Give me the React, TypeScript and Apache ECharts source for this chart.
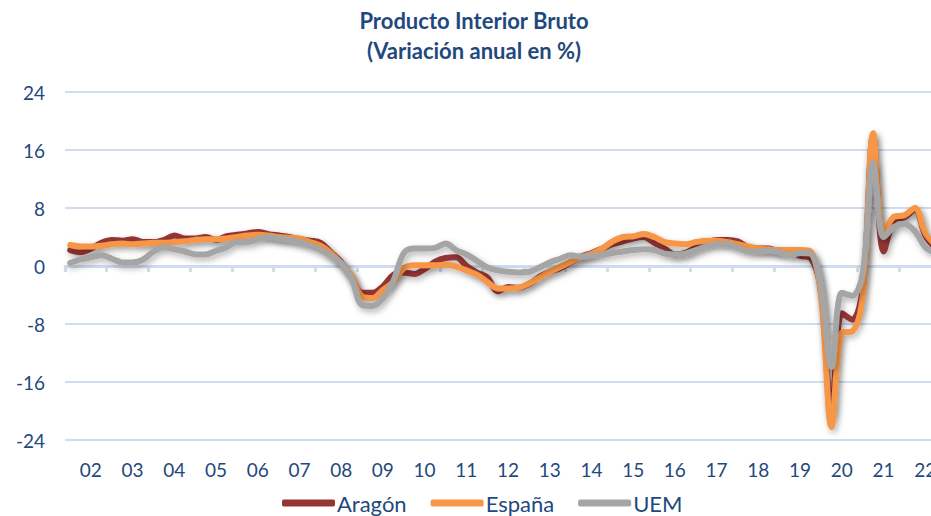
import React, { useEffect, useRef } from 'react';
import * as echarts from 'echarts';

const yearLabels = ['02', '03', '04', '05', '06', '07', '08', '09', '10', '11', '12', '13', '14', '15', '16', '17', '18', '19', '20', '21', '22'];
const firstYear = 2002;

// Quarterly year-on-year growth (%), 2002T1 .. 2022T4
const aragon = [
  2.2, 1.9, 2.4, 3.2,
  3.6, 3.5, 3.7, 3.3,
  3.3, 3.6, 4.2, 3.8,
  3.8, 4.0, 3.6, 4.1,
  4.3, 4.5, 4.7, 4.4,
  4.2, 4.0, 3.7, 3.5,
  3.2, 1.9, 0.5, -1.6,
  -3.7, -3.7, -2.8, -1.2,
  -0.9, -1.1, -0.4, 0.6,
  1.1, 1.2, 0.0, -0.9,
  -1.6, -3.5, -2.9, -3.0,
  -2.5, -1.5, -0.8, -0.3,
  0.5, 1.3, 1.8, 2.4,
  3.0, 3.4, 3.8, 4.0,
  3.2, 2.4, 1.6, 1.8,
  2.6, 3.2, 3.6, 3.6,
  3.4, 2.6, 2.4, 2.4,
  2.0, 2.0, 1.4, 1.1,
  -3.5, -20.5, -6.5, -7.4,
  -3.0, 18.0, 2.0, 6.3,
  6.7, 7.8, 4.2, 2.5,
];
const espana = [
  2.9, 2.7, 2.7, 2.8,
  3.0, 3.1, 3.0, 3.1,
  3.2, 3.2, 3.3, 3.4,
  3.6, 3.7, 3.7, 3.8,
  4.0, 4.2, 4.3, 4.2,
  4.0, 3.9, 3.8, 3.3,
  2.8, 1.8, 0.3, -1.4,
  -4.2, -4.4, -3.3, -2.2,
  -0.3, 0.1, 0.1, 0.1,
  0.2, -0.1, -0.6, -1.2,
  -2.2, -3.1, -3.1, -3.0,
  -2.4, -1.6, -0.8, -0.1,
  0.6, 1.2, 1.7, 2.4,
  3.4, 4.0, 4.1, 4.4,
  4.0, 3.3, 3.1, 3.0,
  3.3, 3.5, 3.5, 3.3,
  3.0, 2.7, 2.4, 2.3,
  2.2, 2.2, 2.2, 2.0,
  -4.2, -22.2, -9.2, -9.0,
  -4.0, 18.3, 4.5, 6.8,
  7.0, 8.0, 4.5, 2.9,
];
const uem = [
  0.4, 0.9, 1.2, 1.5,
  1.0, 0.5, 0.5, 0.9,
  2.0, 2.6, 2.3, 2.0,
  1.6, 1.6, 2.1, 2.6,
  3.3, 3.3, 3.7, 4.0,
  3.8, 3.6, 3.3, 2.8,
  2.2, 1.4, 0.4, -1.7,
  -5.4, -5.5, -4.4, -2.0,
  1.8, 2.4, 2.4, 2.5,
  3.1, 2.2, 1.6, 0.7,
  -0.2, -0.6, -0.8, -0.9,
  -0.8, -0.2, 0.5, 1.0,
  1.5, 1.3, 1.4, 1.5,
  1.8, 2.0, 2.2, 2.3,
  2.2, 1.7, 1.6, 1.7,
  2.2, 2.7, 3.0, 3.0,
  2.5, 2.0, 2.0, 2.1,
  1.9, 1.5, 1.8, 1.7,
  -3.0, -13.9, -3.7, -4.1,
  -1.0, 14.2, 4.0, 5.4,
  5.8, 4.8, 2.6, 1.8,
];

const yTicks = { min: -24, max: 24, interval: 8 };

const TEXT = '#1F497D';
const GRID = '#D0DDEF';
const FONT = 'Lato, "Open Sans", sans-serif';

// quarter i -> position on a continuous year scale (middle of the quarter)
const toXY = (vals: number[]) => vals.map((v, i) => [firstYear + Math.floor(i / 4) + ((i % 4) + 0.5) / 4, v]);

export default function App() {
  const ref = useRef<HTMLDivElement>(null);
  useEffect(() => {
    if (!ref.current) return;
    document.body.style.overflow = 'hidden';
    const chart = echarts.init(ref.current, undefined, { renderer: 'svg' });
    const shadow = {
      shadowColor: 'rgba(0,0,0,0.3)',
      shadowBlur: 6,
      shadowOffsetX: 2,
      shadowOffsetY: 3,
    };
    const mk = (name: string, color: string, vals: number[]) => ({
      name,
      type: 'line',
      xAxisIndex: 0,
      yAxisIndex: 0,
      data: toXY(vals),
      smooth: 0.35,
      showSymbol: false,
      symbol: 'none',
      lineStyle: { color, width: 6, cap: 'round', join: 'round', ...shadow },
      itemStyle: { color },
      z: 3,
    });
    chart.setOption({
      animation: false,
      title: {
        text: 'Producto Interior Bruto\n(Variación anual en %)',
        left: 469,
        textAlign: 'center',
        top: 0,
        textStyle: { fontFamily: FONT, fontSize: 22, fontWeight: 'bold', color: TEXT, lineHeight: 30 },
      },
      legend: {
        bottom: -3,
        left: 277,
        itemWidth: 53,
        itemHeight: 7,
        itemGap: 24,
        icon: 'roundRect',
        textStyle: { fontFamily: FONT, fontSize: 22, color: TEXT, padding: [0, 0, 0, -3] },
        data: ['Aragón', 'España', 'UEM'],
      },
      grid: { left: 65, right: 19, top: 92, bottom: 76, containLabel: false },
      xAxis: [
        {
          type: 'value',
          min: firstYear,
          max: firstYear + yearLabels.length,
          interval: 1,
          position: 'bottom',
          axisLine: { show: true, onZero: true, lineStyle: { color: GRID, width: 3 } },
          axisTick: { show: true, length: 6, lineStyle: { color: GRID, width: 3 } },
          axisLabel: { show: false },
          splitLine: { show: false },
        },
        {
          type: 'category',
          data: yearLabels,
          boundaryGap: true,
          position: 'bottom',
          axisLine: { show: false, onZero: false },
          axisTick: { show: false },
          axisLabel: { fontFamily: FONT, fontSize: 19, color: TEXT, margin: 20, padding: [0, 0, 0, 10] },
          splitLine: { show: false },
        },
      ],
      yAxis: {
        type: 'value',
        min: yTicks.min,
        max: yTicks.max,
        interval: yTicks.interval,
        axisLine: { show: false },
        axisTick: { show: false },
        axisLabel: { fontFamily: FONT, fontSize: 19, color: TEXT, margin: 20 },
        splitLine: { show: true, lineStyle: { color: GRID, width: 2 } },
      },
      series: [
        mk('Aragón', '#943634', aragon),
        mk('España', '#F79646', espana),
        mk('UEM', '#A5A5A5', uem),
      ],
    });
    return () => chart.dispose();
  }, []);
  return (
    <div
      ref={ref}
      style={{ position: 'fixed', left: 0, top: 0, width: 960, height: 516, background: '#fff' }}
    />
  );
}
